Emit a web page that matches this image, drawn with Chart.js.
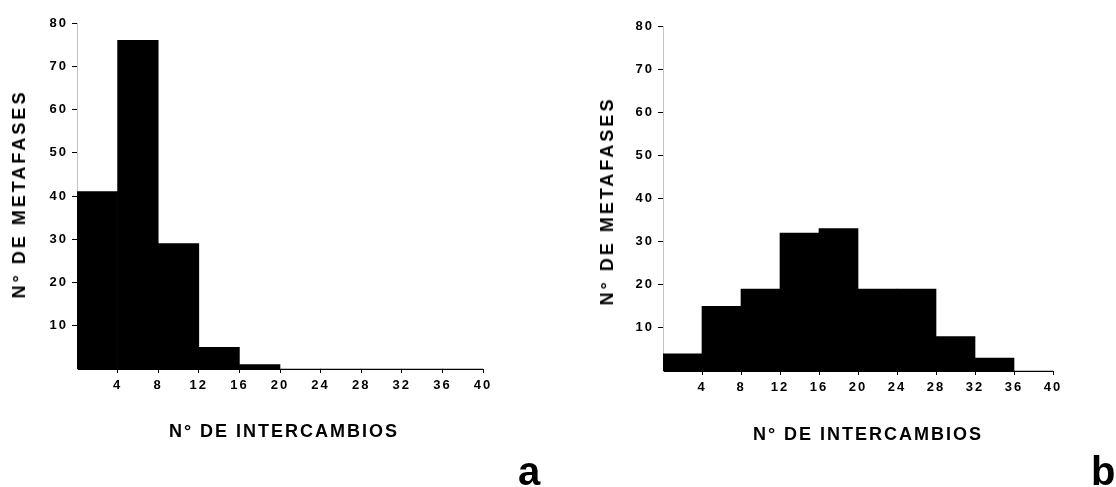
<!DOCTYPE html>
<html>
<head>
<meta charset="utf-8">
<script src="https://cdn.jsdelivr.net/npm/chart.js@4/dist/chart.umd.min.js"></script>
<style>
  body { margin: 0; background: #fff; width: 1116px; height: 487px; position: relative; overflow: hidden; }
  canvas { position: absolute; top: 0; }
  .lbl { position: absolute; font-family: "Liberation Sans", Arial, sans-serif; font-weight: bold; color: #000; white-space: nowrap; }
  .xt { font-size: 18px; line-height: 18px; letter-spacing: 2px; width: 400px; text-align: center; }
  .yt { font-size: 18px; line-height: 18px; letter-spacing: 3px; transform: translate(-50%, -50%) rotate(-90deg); }
  .panel { font-size: 40px; line-height: 40px; }
</style>
</head>
<body>
<canvas id="chartA" width="560" height="487" style="left:0"></canvas>
<canvas id="chartB" width="536" height="487" style="left:580px"></canvas>

<div class="lbl yt" style="left:19px; top:194px">N° DE METAFASES</div>
<div class="lbl yt" style="left:607px; top:201px">N° DE METAFASES</div>
<div class="lbl xt" style="left:84px; top:422px">N° DE INTERCAMBIOS</div>
<div class="lbl xt" style="left:668px; top:425px">N° DE INTERCAMBIOS</div>
<div class="lbl panel" style="left:518px; top:451px">a</div>
<div class="lbl panel" style="left:1091px; top:451px">b</div>

<script>
// intervalos de 4 intercambios (punto medio de cada clase)
const intervalos = [2, 6, 10, 14, 18, 22, 26, 30, 34, 38]
const metafasesA = [41, 76, 29, 5, 1, 0, 0, 0, 0, 0]
const metafasesB = [4, 15, 19, 32, 33, 19, 19, 8, 3, 0]
const ticksX = [4, 8, 12, 16, 20, 24, 28, 32, 36, 40]
const ticksY = [10, 20, 30, 40, 50, 60, 70, 80]

const fuente = { family: '"Liberation Sans", Arial, sans-serif', size: 13, weight: 'bold' }

// separacion de letras en los numeros de los ejes
const espaciado = {
  id: 'espaciado',
  beforeDraw(chart) {
    chart.ctx.letterSpacing = '2px'
  }
}

function histograma(id, valores, anchoEjeY, padding) {
  return new Chart(document.getElementById(id), {
    type: 'bar',
    data: {
      datasets: [{
        data: intervalos.map((x, i) => ({ x: x, y: valores[i] })),
        backgroundColor: '#000',
        borderWidth: 0,
        barPercentage: 1,
        categoryPercentage: 1
      }]
    },
    options: {
      responsive: false,
      animation: false,
      devicePixelRatio: 1,
      layout: { padding: padding },
      plugins: { legend: { display: false }, tooltip: { enabled: false } },
      scales: {
        x: {
          type: 'linear',
          offset: false,
          min: 0,
          max: 40,
          afterBuildTicks: s => { s.ticks = ticksX.map(v => ({ value: v })) },
          afterFit: s => { s.height = 30 },
          grid: { drawOnChartArea: false, offset: false, tickLength: 4, tickColor: '#000' },
          border: { color: '#000', width: 1 },
          ticks: { color: '#000', font: fuente, padding: 5, maxRotation: 0 }
        },
        y: {
          min: 0,
          max: 80,
          afterBuildTicks: s => { s.ticks = ticksY.map(v => ({ value: v })) },
          afterFit: s => { s.width = anchoEjeY },
          grid: { drawOnChartArea: false, tickLength: 5, tickColor: '#000' },
          border: { color: '#c4c4c4', width: 1, dash: [2, 1] },
          ticks: { color: '#000', font: fuente, padding: 4 }
        }
      }
    },
    plugins: [espaciado]
  })
}

histograma('chartA', metafasesA, 77, { top: 23, right: 77, bottom: 88, left: 0 })
histograma('chartB', metafasesB, 83, { top: 26, right: 63, bottom: 86, left: 0 })
</script>
</body>
</html>
